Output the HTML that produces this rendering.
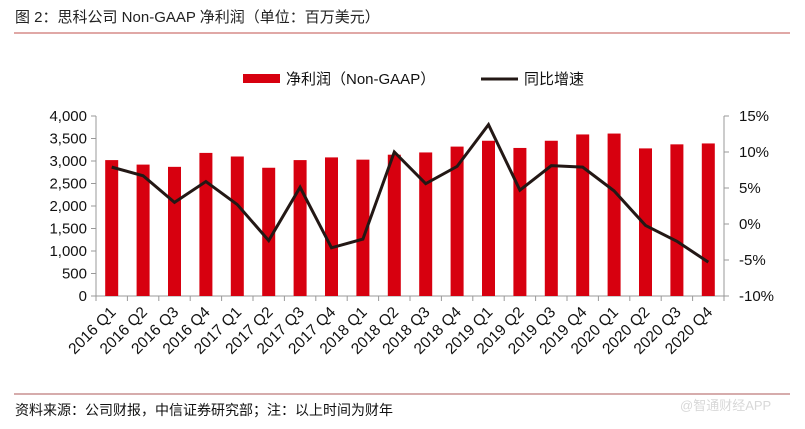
<!DOCTYPE html>
<html><head><meta charset="utf-8"><style>
body{margin:0;background:#fff;}
svg text{font-family:"Liberation Sans","Noto Sans CJK SC",sans-serif;}
</style></head><body>
<svg width="805" height="424" xmlns="http://www.w3.org/2000/svg">
<text x="15" y="22" font-size="15" fill="#222">图 2：思科公司 Non-GAAP 净利润（单位：百万美元）</text>
<line x1="14" y1="33" x2="790" y2="33" stroke="#c0504d" stroke-width="1"/>
<rect x="243" y="74" width="37" height="9" fill="#d7000f"/>
<text x="286" y="84" font-size="15" fill="#111">净利润（Non-GAAP）</text>
<line x1="481" y1="79" x2="518" y2="79" stroke="#231815" stroke-width="3"/>
<text x="524" y="84" font-size="15" fill="#111">同比增速</text>
<g id="plot"></g>
<line x1="14" y1="394" x2="790" y2="394" stroke="#c89090" stroke-width="1.5"/>
<text x="15" y="415" font-size="14" fill="#111">资料来源：公司财报，中信证券研究部；注：以上时间为财年</text>
<text x="680" y="410" font-size="13" fill="#d8d8d8">@智通财经APP</text>
</svg>
<script>
const categories=["2016 Q1","2016 Q2","2016 Q3","2016 Q4","2017 Q1","2017 Q2","2017 Q3","2017 Q4","2018 Q1","2018 Q2","2018 Q3","2018 Q4","2019 Q1","2019 Q2","2019 Q3","2019 Q4","2020 Q1","2020 Q2","2020 Q3","2020 Q4"];
const profit=[3020,2920,2870,3180,3100,2850,3020,3080,3030,3140,3190,3320,3450,3290,3450,3590,3610,3280,3370,3390];
const growth=[7.9,6.7,3.0,5.9,2.7,-2.3,5.1,-3.3,-2.1,10.0,5.6,8.0,13.8,4.7,8.1,7.9,4.6,-0.2,-2.4,-5.3];
const leftTicks=[0,500,1000,1500,2000,2500,3000,3500,4000];
const rightTicks=[-10,-5,0,5,10,15];
const NS="http://www.w3.org/2000/svg";
const g=document.getElementById('plot');
const X0=96,X1=724,YT=116,YB=296;
const step=(X1-X0)/categories.length;
const xc=i=>X0+step*(i+0.5);
const yL=v=>YB-(v/4000)*(YB-YT);
const yR=v=>YB-((v+10)/25)*(YB-YT);
function mk(t,a){const e=document.createElementNS(NS,t);for(const k in a)e.setAttribute(k,a[k]);g.appendChild(e);return e;}
let e;
e=mk('line',{x1:X0,y1:YT,x2:X0,y2:YB,stroke:'#999'});


e=mk('line',{x1:X1,y1:YT,x2:X1,y2:YB,stroke:'#999'});


e=mk('line',{x1:X0,y1:YB,x2:X1,y2:YB,stroke:'#999'});


leftTicks.forEach(v=>{
 mk('line',{x1:X0-5,y1:yL(v),x2:X0,y2:yL(v),stroke:'#999'});
 e=mk('text',{x:X0-9,y:yL(v)+5,'font-size':15,'text-anchor':'end',fill:'#111'});e.textContent=v.toLocaleString('en-US');
 
 
});
rightTicks.forEach(v=>{
 mk('line',{x1:X1,y1:yR(v),x2:X1+5,y2:yR(v),stroke:'#999'});
 e=mk('text',{x:X1+15,y:yR(v)+5,'font-size':15,fill:'#111'});e.textContent=v+'%';
 
 
});
for(let i=0;i<=categories.length;i++)mk('line',{x1:X0+step*i,y1:YB,x2:X0+step*i,y2:YB+5,stroke:'#999'});
profit.forEach((v,i)=>{
 e=mk('rect',{x:xc(i)-6.5,y:yL(v),width:13,height:YB-yL(v),fill:'#d7000f'});
 
 
});
e=mk('polyline',{points:growth.map((v,i)=>xc(i)+','+yR(v)).join(' '),fill:'none',stroke:'#231815','stroke-width':3,'stroke-linejoin':'miter'});


categories.forEach((c,i)=>{
 const x=xc(i)+5,y=YB+17;
 e=mk('text',{x:x,y:y,'font-size':15.5,'text-anchor':'end',fill:'#111',transform:`rotate(-45 ${x} ${y})`});e.textContent=c;
 
 
});
</script>
</body></html>
